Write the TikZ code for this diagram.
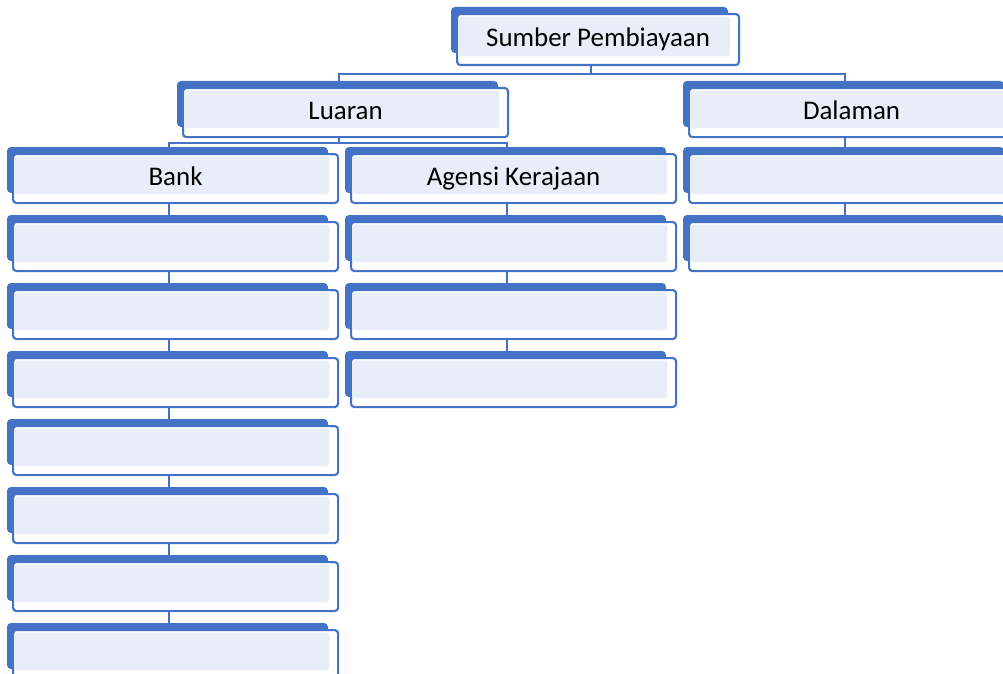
\documentclass[tikz,border=0pt]{standalone}
\usepackage{fontspec}
\setmainfont{Carlito}
\usetikzlibrary{calc}
\pgfdeclarelayer{background}
\pgfsetlayers{background,main}
\definecolor{mblue}{HTML}{4472C4}
\definecolor{lfill}{HTML}{E9EDF7}
\tikzset{
  box/.style={draw=mblue, line width=1.6pt, fill=white, rounded corners=2.5pt,
    minimum width=243.75pt, minimum height=36.75pt, inner sep=0pt,
    anchor=north west, text=black, font=\fontsize{20.2}{24}\selectfont,
    text height=12.5pt, text depth=1.5pt,
    path picture={\fill[lfill, rounded corners=1.5pt]
      ($(path picture bounding box.north west)+(2,2.5)$) rectangle
      ($(path picture bounding box.south east)+(-9,-9)$);}},
  topbox/.style={box, minimum width=211.5pt, minimum height=38.25pt},
  back/.style={fill=mblue, rounded corners=3pt},
  conn/.style={draw=mblue, line width=1.5pt}
}
\newcommand\obox[4]{%
  \fill[back] (#2,#3) rectangle ++(321,46);
  \node[box] (#1) at (#2+5,#3+6) {#4};
}
\begin{document}
\begin{tikzpicture}[x=0.75pt,y=-0.75pt]
\useasboundingbox (0,0) rectangle (1003,674);
\clip (0,0) rectangle (1003,674);
% top
\fill[back] (451,7) rectangle ++(277,46);
\node[topbox] (s) at (456,13) {Sumber Pembiayaan};
% second level
\obox{lu}{177}{81}{Luaran}
\obox{d0}{683}{81}{Dalaman}
% Bank column
\obox{b0}{7}{147}{Bank}
\obox{b1}{7}{215}{}
\obox{b2}{7}{283}{}
\obox{b3}{7}{351}{}
\obox{b4}{7}{419}{}
\obox{b5}{7}{487}{}
\obox{b6}{7}{555}{}
\obox{b7}{7}{623}{}
% Agensi column
\obox{a0}{345}{147}{Agensi Kerajaan}
\obox{a1}{345}{215}{}
\obox{a2}{345}{283}{}
\obox{a3}{345}{351}{}
% Dalaman column
\obox{d1}{683}{147}{}
\obox{d2}{683}{215}{}
\begin{pgfonlayer}{background}
\draw[conn] ($(s.south)+(-7,0)$) -- ++(0,8) -| ($(lu.north)+(-7,-6)$);
\draw[conn] ($(s.south)+(-7,0)$) -- ++(0,8) -| ($(d0.north)+(-7,-6)$);
\draw[conn] ($(lu.south)+(-7,0)$) -- ++(0,5) -| ($(b0.north)+(-7,-6)$);
\draw[conn] ($(lu.south)+(-7,0)$) -- ++(0,5) -| ($(a0.north)+(-7,-6)$);
\foreach \p/\c in {b0/b1,b1/b2,b2/b3,b3/b4,b4/b5,b5/b6,b6/b7,a0/a1,a1/a2,a2/a3,d0/d1,d1/d2}
  \draw[conn] ($(\p.south)+(-7,0)$) -- ($(\c.north)+(-7,-6)$);
\end{pgfonlayer}
\end{tikzpicture}
\end{document}
